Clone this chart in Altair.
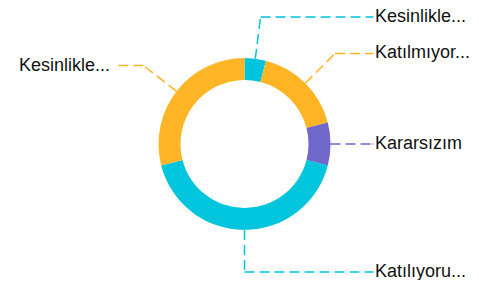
import altair as alt
import pandas as pd

categories = ["Kesinlikle katılıyorum", "Katılmıyorum", "Kararsızım", "Katılıyorum", "Kesinlikle katılmıyorum"]
values = [4, 17, 8, 42, 29]
palette = ["#00C4DC", "#FFB424", "#6F67CA", "#00C5DD", "#FFB525"]

df = pd.DataFrame({"idx": list(range(len(categories))), "category": categories, "value": values})

PAD_TOP = 4
CX, CY = 236.5, 136.0 - PAD_TOP
R_OUT, R_IN = 86, 64
R_ELBOW = 128
EDGE_R, EDGE_L = 129, 129.5
GAP_R, GAP_L = 1.5, 5

color = alt.Color("category:N", scale=alt.Scale(domain=categories, range=palette), legend=None)

base = alt.Chart(df)

arcs = base.mark_arc(outerRadius=R_OUT, innerRadius=R_IN).encode(
    theta=alt.Theta("value:Q", stack=True),
    order=alt.Order("idx:Q"),
    color=color,
    x=alt.value(CX),
    y=alt.value(CY),
)

geo = base.transform_joinaggregate(total="sum(value)").transform_window(
    cum="sum(value)", sort=[alt.SortField("idx")]
).transform_calculate(
    mid="(datum.cum - datum.value/2) / datum.total * 2 * PI",
).transform_calculate(
    sx=f"{CX} + {R_OUT}*sin(datum.mid)",
    sy=f"{CY} - {R_OUT}*cos(datum.mid)",
    ex=f"{CX} + {R_ELBOW}*sin(datum.mid)",
    ey=f"{CY} - {R_ELBOW}*cos(datum.mid)",
    side="sin(datum.mid) >= -0.0001 ? 1 : -1",
    label="length(datum.category) > 10 ? substring(datum.category, 0, 10) + '...' : datum.category",
).transform_calculate(
    hx=f"datum.side > 0 ? {CX} + {EDGE_R} : {CX} - {EDGE_L}",
    tx=f"datum.side > 0 ? {CX} + {EDGE_R + GAP_R} : {CX} - {EDGE_L + GAP_L}",
)

dash = [10, 5]
X = lambda f: alt.X(f, scale=None, axis=None)
Y = lambda f: alt.Y(f, scale=None, axis=None)

seg1 = geo.mark_rule(strokeDash=dash, strokeWidth=1.5).encode(
    x=X("sx:Q"), y=Y("sy:Q"), x2="ex:Q", y2="ey:Q", color=color,
)
seg2 = geo.mark_rule(strokeDash=dash, strokeWidth=1.5).encode(
    x=X("ex:Q"), y=Y("ey:Q"), x2="hx:Q", y2="ey:Q", color=color,
)

txt_style = dict(font="Liberation Sans", fontSize=18, baseline="middle", color="#111111")
text_right = geo.transform_filter("datum.side > 0").mark_text(align="left", **txt_style).encode(
    x=X("tx:Q"), y=Y("ey:Q"), text="label:N",
)
text_left = geo.transform_filter("datum.side < 0").mark_text(align="right", **txt_style).encode(
    x=X("tx:Q"), y=Y("ey:Q"), text="label:N",
)

chart = alt.layer(arcs, seg1, seg2, text_right, text_left).properties(
    width=463, height=272 - PAD_TOP,
    padding={"left": 0, "top": PAD_TOP, "right": 0, "bottom": 0},
    autosize=alt.AutoSizeParams(type="none"),
    background="white",
).configure_view(stroke=None, strokeWidth=0)

chart.save("out.html", embed_options={"renderer": "svg", "actions": False})
